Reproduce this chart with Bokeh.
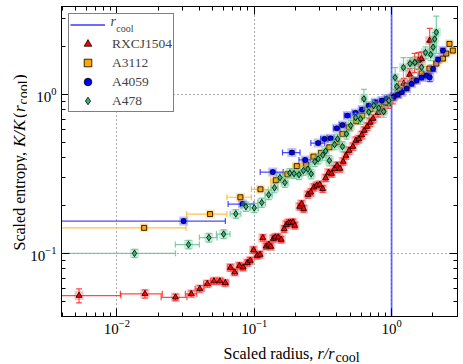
import math
from bokeh.plotting import figure
from bokeh.layouts import row, column
from bokeh.models import (Range1d, LogAxis, FixedTicker, Whisker, TeeHead,
                          ColumnDataSource, Legend, LegendItem, Label)
from bokeh.embed import file_html
from bokeh.resources import INLINE

FONT = "Liberation Serif"

# ---------------- data ----------------
r_cool = 1.0

red_x = [0.0053, 0.0160, 0.0267, 0.0348, 0.0401, 0.0456, 0.0509, 0.0562, 0.0616, 0.0671,
         0.0721, 0.0780, 0.0830, 0.0891, 0.0936, 0.0989, 0.1051, 0.1102, 0.1154, 0.1220,
         0.1277, 0.1320, 0.1377, 0.1423, 0.1496, 0.1572, 0.1651, 0.1717, 0.1780, 0.1840,
         0.1918, 0.1974, 0.2143, 0.2214, 0.2291, 0.2460, 0.2584, 0.2716, 0.2853, 0.2998,
         0.3151, 0.3312, 0.3481, 0.3657, 0.3843, 0.4008, 0.4210, 0.4443, 0.4654, 0.4909,
         0.5229, 0.5495, 0.5772, 0.6066, 0.6324, 0.6645, 0.6982, 0.7336, 0.797, 0.866,
         0.941, 1.022, 1.123, 1.226, 1.354, 1.471, 1.572, 1.652, 1.895]
red_y = [0.0544, 0.0558, 0.0531, 0.0558, 0.0600, 0.0645, 0.0671, 0.0671, 0.0654, 0.0816,
         0.0763, 0.0838, 0.0820, 0.0874, 0.0904, 0.1052, 0.0971, 0.0986, 0.1255, 0.1111,
         0.1139, 0.1107, 0.1242, 0.1267, 0.1267, 0.1225, 0.1429, 0.1521, 0.1560, 0.1560,
         0.1574, 0.1500, 0.1976, 0.2055, 0.1910, 0.2350, 0.2429, 0.2612, 0.2679, 0.2716,
         0.2553, 0.2985, 0.3231, 0.3186, 0.3410, 0.3576, 0.3425, 0.3791, 0.4134, 0.4445,
         0.4709, 0.5139, 0.5250, 0.5563, 0.5940, 0.6291, 0.6670, 0.7063, 0.770, 0.805,
         0.878, 0.944, 1.086, 1.173, 1.336, 1.596, 1.636, 1.677, 2.186]
red_xerr = [0.0054, 0.0054, 0.0057, 0.0033, 0.0030, 0.0028, 0.0028, 0.0028, 0.0028, 0.0030,
            0.0030, 0.0030, 0.0030, 0.0032, 0.0032, 0.0035, 0.0035, 0.0035, 0.0035, 0.0040,
            0.0040, 0.0040, 0.0040, 0.0045, 0.0045, 0.0045, 0.0050, 0.0050, 0.0050, 0.0050,
            0.0055, 0.0055, 0.0060, 0.0060, 0.0060, 0.0065, 0.0065, 0.0070, 0.0070, 0.0075,
            0.0075, 0.0080, 0.0080, 0.0085, 0.0085, 0.0090, 0.0090, 0.0095, 0.0100, 0.0100,
            0.0110, 0.0110, 0.0120, 0.0120, 0.0130, 0.0130, 0.0140, 0.0140, 0.0150, 0.0160,
            0.0170, 0.0180, 0.0200, 0.0220, 0.0240, 0.0260, 0.0280, 0.0300, 0.0340]
red_yerr = [0.0055, 0.0033, 0.0025, 0.0025, 0.0028, 0.0030, 0.0030, 0.0030, 0.0030, 0.0040,
            0.0035, 0.0040, 0.0038, 0.0040, 0.0042, 0.0050, 0.0045, 0.0045, 0.0060, 0.0050,
            0.0052, 0.0050, 0.0058, 0.0060, 0.0060, 0.0058, 0.0068, 0.0072, 0.0075, 0.0075,
            0.0075, 0.0070, 0.0095, 0.0100, 0.0090, 0.0115, 0.0120, 0.0130, 0.0130, 0.0135,
            0.0125, 0.0150, 0.0160, 0.0160, 0.0170, 0.0180, 0.0170, 0.0190, 0.0210, 0.0230,
            0.0250, 0.0270, 0.0280, 0.0300, 0.0330, 0.0350, 0.0380, 0.0420, 0.0480, 0.0520,
            0.0600, 0.0700, 0.1300, 0.0900, 0.1200, 0.2200, 0.2000, 0.1800, 0.4200]

orange_x = [0.01579, 0.04770, 0.07929, 0.1110, 0.1435, 0.1742, 0.2042, 0.2389, 0.2702, 0.3064,
            0.3522, 0.3974, 0.4388, 0.4904, 0.5535, 0.6113, 0.7015, 0.8063, 0.8994, 1.005,
            1.153, 1.289, 1.447, 1.652, 1.886, 2.118, 2.366, 2.500, 2.640, 2.793]
orange_y = [0.1451, 0.1772, 0.2260, 0.2537, 0.2891, 0.3152, 0.3550, 0.3628, 0.4074, 0.4297,
            0.4661, 0.5012, 0.5661, 0.6226, 0.6793, 0.7376, 0.8129, 0.8651, 0.8946, 0.9575,
            1.060, 1.139, 1.225, 1.356, 1.457, 1.567, 1.684, 1.811, 2.084, 1.891]
orange_xerr = [0.0161, 0.0155, 0.0160, 0.0156, 0.0120, 0.0120, 0.0130, 0.0130, 0.0140, 0.0140,
               0.0150, 0.0150, 0.0160, 0.0160, 0.0170, 0.0170, 0.0180, 0.0200, 0.0200, 0.0200,
               0.0220, 0.0250, 0.0280, 0.0300, 0.0350, 0.0400, 0.0450, 0.0500, 0.0550, 0.0600]
orange_yerr = [0.0045, 0.0050, 0.0060, 0.0065, 0.0075, 0.0080, 0.0090, 0.0090, 0.0100, 0.0110,
               0.0120, 0.0130, 0.0145, 0.0160, 0.0175, 0.0190, 0.0210, 0.0220, 0.0230, 0.0250,
               0.0280, 0.0300, 0.0320, 0.0350, 0.0380, 0.0410, 0.0450, 0.0500, 0.0600, 0.0550]

blue_x = [0.03063, 0.0820, 0.1365, 0.1880, 0.2350, 0.2920, 0.3242, 0.3598, 0.3994, 0.4388,
          0.4770, 0.5470, 0.6113, 0.6831, 0.7621, 0.8516, 0.9251, 1.039, 1.110, 1.186,
          1.289, 1.400, 1.520, 1.652, 1.795, 1.895, 2.005, 2.178, 2.366]
blue_y = [0.1601, 0.2048, 0.3255, 0.4316, 0.3883, 0.4954, 0.5264, 0.5310, 0.6138, 0.6430,
          0.7376, 0.7671, 0.8047, 0.8528, 0.8946, 0.9168, 0.9437, 0.9714, 1.000, 1.034,
          1.091, 1.168, 1.225, 1.279, 1.317, 1.285, 1.451, 1.660, 1.891]
blue_xerr = [0.0310, 0.0175, 0.0260, 0.0274, 0.0233, 0.0337, 0.0200, 0.0200, 0.0220, 0.0220,
             0.0240, 0.0250, 0.0260, 0.0280, 0.0300, 0.0320, 0.0340, 0.0360, 0.0380, 0.0400,
             0.0420, 0.0450, 0.0480, 0.0500, 0.0520, 0.0550, 0.0580, 0.0600, 0.0650]
blue_yerr = [0.0050, 0.0070, 0.0090, 0.0110, 0.0100, 0.0130, 0.0140, 0.0140, 0.0160, 0.0170,
             0.0190, 0.0200, 0.0210, 0.0220, 0.0240, 0.0250, 0.0260, 0.0280, 0.0300, 0.0310,
             0.0330, 0.0360, 0.0380, 0.0420, 0.0450, 0.0800, 0.0500, 0.0550, 0.0600]

green_x = [0.01343, 0.03323, 0.04675, 0.05984, 0.07337, 0.08701, 0.1000, 0.1134, 0.1274, 0.1404,
           0.1539, 0.1671, 0.1816, 0.1950, 0.2118, 0.2281, 0.2459, 0.2597, 0.2761, 0.2925,
           0.3151, 0.3313, 0.3522, 0.3845, 0.4043, 0.4388, 0.4690, 0.5036, 0.5471, 0.5942,
           0.6290, 0.6831, 0.7420, 0.8063, 0.8758, 0.9563, 1.061, 1.092, 1.220, 1.361,
           1.479, 1.652, 1.766, 1.927, 2.005, 2.060, 2.118]
green_y = [0.1003, 0.1139, 0.1260, 0.1326, 0.1777, 0.1975, 0.1938, 0.2093, 0.2343, 0.2593,
           0.3006, 0.2796, 0.3208, 0.3185, 0.3139, 0.3327, 0.3400, 0.3171, 0.3790, 0.3941,
           0.4164, 0.4412, 0.3845, 0.4847, 0.5264, 0.4709, 0.5661, 0.6383, 0.7166, 0.7033,
           0.9396, 0.7760, 0.8528, 0.8224, 0.7818, 0.9168, 1.279, 1.123, 1.478, 1.567,
           1.590, 1.485, 1.837, 1.785, 1.984, 2.234, 2.465]
green_xerr = [0.0133, 0.0066, 0.0069, 0.0068, 0.0066, 0.0068, 0.0070, 0.0072, 0.0075, 0.0078,
              0.0080, 0.0085, 0.0090, 0.0095, 0.0100, 0.0105, 0.0110, 0.0115, 0.0120, 0.0125,
              0.0130, 0.0135, 0.0140, 0.0150, 0.0160, 0.0170, 0.0180, 0.0190, 0.0200, 0.0210,
              0.0220, 0.0240, 0.0260, 0.0280, 0.0300, 0.0320, 0.0350, 0.0360, 0.0400, 0.0450,
              0.0480, 0.0520, 0.0560, 0.0600, 0.0620, 0.0640, 0.0660]
green_yerr = [0.0060, 0.0070, 0.0080, 0.0085, 0.0110, 0.0130, 0.0130, 0.0140, 0.0160, 0.0180,
              0.0200, 0.0190, 0.0220, 0.0220, 0.0220, 0.0230, 0.0240, 0.0220, 0.0270, 0.0280,
              0.0300, 0.0320, 0.0280, 0.0350, 0.0380, 0.0350, 0.0420, 0.0480, 0.0550, 0.0540,
              0.1400, 0.0600, 0.0700, 0.0650, 0.0620, 0.0750, 0.2000, 0.0900, 0.2300, 0.1400,
              0.1300, 0.1200, 0.1600, 0.1500, 0.1800, 0.2200, 0.6500]

series_names = ["RXCJ1504", "A3112", "A4059", "A478"]

# ---------------- main figure ----------------
X_START, X_END = 0.00395, 3.02
Y_START, Y_END = 0.0402, 3.58
LEFT_W = 27          # strip holding the y-axis title
MAIN_W, MAIN_H = 435, 338
BOTTOM_H = 25        # strip holding the x-axis title

p = figure(width=MAIN_W, height=MAIN_H, x_axis_type="log", y_axis_type="log",
           x_range=Range1d(X_START, X_END), y_range=Range1d(Y_START, Y_END),
           output_backend="svg", toolbar_location=None,
           min_border_left=29, min_border_right=5, min_border_top=6, min_border_bottom=22)
p.background_fill_color = "white"
p.border_fill_color = "white"
p.outline_line_color = "black"
p.outline_line_width = 1

x_major = [0.01, 0.1, 1.0]
x_minor = [m * 10.0 ** e for e in (-3, -2, -1, 0) for m in range(2, 10) if X_START < m * 10.0 ** e < X_END]
y_major = [0.1, 1.0]
y_minor = [m * 10.0 ** e for e in (-2, -1, 0) for m in range(2, 10) if Y_START < m * 10.0 ** e < Y_END]
xt = FixedTicker(ticks=x_major, minor_ticks=x_minor)
yt = FixedTicker(ticks=y_major, minor_ticks=y_minor)


def style_axis(ax, labels=True, standoff=4):
    ax.axis_line_color = "black"
    ax.major_tick_in = 8
    ax.major_tick_out = 0
    ax.minor_tick_in = 4
    ax.minor_tick_out = 0
    ax.major_tick_line_color = "black"
    ax.minor_tick_line_color = "black"
    if labels:
        ax.major_label_text_font = FONT
        ax.major_label_text_font_size = "15px"
        ax.major_label_text_color = "black"
        ax.major_label_standoff = standoff
    else:
        ax.major_label_text_font_size = "1px"
        ax.major_label_text_alpha = 0
        ax.major_label_standoff = 0


p.xaxis.ticker = xt
p.yaxis.ticker = yt
style_axis(p.xaxis[0], standoff=3)
style_axis(p.yaxis[0], standoff=5)
top = LogAxis(ticker=FixedTicker(ticks=x_major, minor_ticks=x_minor))
right = LogAxis(ticker=FixedTicker(ticks=y_major, minor_ticks=y_minor))
style_axis(top, labels=False)
style_axis(right, labels=False)
p.add_layout(top, "above")
p.add_layout(right, "right")

for g, t in ((p.xgrid[0], xt), (p.ygrid[0], yt)):
    g.ticker = t
    g.grid_line_color = "#444444"
    g.grid_line_dash = "1 3"
    g.grid_line_width = 1
    g.grid_line_alpha = 0.9

# r_cool line
rline = p.segment(x0=[r_cool], y0=[Y_START], x1=[r_cool], y1=[Y_END],
                  line_color="#3b3bff", line_alpha=0.75, line_width=1.8)


def draw(xs, ys, xerr, yerr, color, bar_color, halo_color, marker, msize):
    src = ColumnDataSource(dict(
        x=xs, y=ys,
        xl=[max(x - e, X_START * 0.5) for x, e in zip(xs, xerr)],
        xh=[x + e for x, e in zip(xs, xerr)],
        yl=[max(y - e, Y_START * 0.5) for y, e in zip(ys, yerr)],
        yh=[y + e for y, e in zip(ys, yerr)],
    ))
    p.scatter("x", "y", source=src, marker="square", size=9, fill_color=halo_color,
              fill_alpha=0.35, line_color=None)
    p.segment("xl", "y", "xh", "y", source=src, line_color=bar_color, line_width=1.2, line_alpha=0.85)
    p.segment("x", "yl", "x", "yh", source=src, line_color=bar_color, line_width=1.2, line_alpha=0.85)
    p.add_layout(Whisker(source=src, base="y", lower="xl", upper="xh", dimension="width",
                         line_alpha=0,
                         lower_head=TeeHead(size=6, line_color=bar_color, line_alpha=0.85, line_width=1.2),
                         upper_head=TeeHead(size=6, line_color=bar_color, line_alpha=0.85, line_width=1.2)))
    p.add_layout(Whisker(source=src, base="x", lower="yl", upper="yh", dimension="height",
                         line_alpha=0,
                         lower_head=TeeHead(size=6, line_color=bar_color, line_alpha=0.85, line_width=1.2),
                         upper_head=TeeHead(size=6, line_color=bar_color, line_alpha=0.85, line_width=1.2)))
    m = p.scatter("x", "y", source=src, marker=marker, size=msize, fill_color=color,
                  line_color="black", line_width=0.8)
    return m


m_red = draw(red_x, red_y, red_xerr, red_yerr, "#ff0000", "#ff2a2a", "#ff4d4d", "triangle", 6)
m_orange = draw(orange_x, orange_y, orange_xerr, orange_yerr, "#ffa500", "#ffb52e", "#ffb52e", "square", 5)
m_blue = draw(blue_x, blue_y, blue_xerr, blue_yerr, "#0000ff", "#2a2aff", "#4d4dff", "circle", 5)
m_green = draw(green_x, green_y, green_xerr, green_yerr, "#3cb371", "#66c795", "#66c795", "diamond", 6.5)

legend = Legend(items=[
    LegendItem(label=" ", renderers=[rline]),
    LegendItem(label=series_names[0], renderers=[m_red]),
    LegendItem(label=series_names[1], renderers=[m_orange]),
    LegendItem(label=series_names[2], renderers=[m_blue]),
    LegendItem(label=series_names[3], renderers=[m_green]),
], location="top_left", margin=7, padding=1, spacing=0, glyph_height=19, glyph_width=35,
    label_height=19, label_standoff=7, label_text_font=FONT, label_text_font_size="13.5px",
    border_line_color="black", border_line_width=1, background_fill_color="white",
    background_fill_alpha=1)
p.add_layout(legend)

# label "r_cool" of the first legend row: two borderless legends laid over the first row
# (location = bottom-left corner, in px from the frame's bottom-left)
leg_r = Legend(items=[LegendItem(label="r", renderers=[rline])], location=(49.5, 286),
               padding=0, margin=0, spacing=0, glyph_width=0, glyph_height=10, label_height=10,
               label_standoff=0, label_text_font=FONT, label_text_font_size="14px",
               label_text_font_style="italic", border_line_alpha=0, background_fill_alpha=0)
leg_cool = Legend(items=[LegendItem(label="cool", renderers=[rline])], location=(55.3, 282),
                  padding=0, margin=0, spacing=0, glyph_width=0, glyph_height=8, label_height=8,
                  label_standoff=0, label_text_font=FONT, label_text_font_size="10px",
                  border_line_alpha=0, background_fill_alpha=0)
p.add_layout(leg_r)
p.add_layout(leg_cool)


def strip(w, h):
    f = figure(width=w, height=h, x_range=Range1d(0, 1), y_range=Range1d(0, 1),
               output_backend="svg", toolbar_location=None, min_border=0,
               x_axis_location=None, y_axis_location=None)
    f.outline_line_color = None
    f.background_fill_color = "white"
    f.border_fill_color = "white"
    f.xgrid.visible = False
    f.ygrid.visible = False
    return f


def lab(f, text, x, y, size, style="normal", angle=0.0):
    # screen units: x from the frame's left edge, y upward from its bottom edge
    f.add_layout(Label(x=x, y=y, x_units="screen", y_units="screen", text=text,
                       text_font=FONT, text_font_size=size, text_font_style=style,
                       angle=angle, text_align="left", text_baseline="alphabetic",
                       text_color="black"))


# y-axis title: Scaled entropy, K/K(r_cool)
fl = strip(LEFT_W, MAIN_H + BOTTOM_H)
A = math.pi / 2
lab(fl, "Scaled entropy, ", 19, 113, "16px", angle=A)
lab(fl, "K/K", 19, 216.5, "17px", "italic", angle=A)
lab(fl, "(", 19, 245.5, "17px", angle=A)
lab(fl, "r", 19, 251.5, "17px", "italic", angle=A)
lab(fl, "cool", 23, 259, "14px", angle=A)
lab(fl, ")", 19, 283.5, "17px", angle=A)

# x-axis title: Scaled radius, r/r_cool
fb = strip(MAIN_W, BOTTOM_H)
lab(fb, "Scaled radius, ", 162, 10.5, "16px")
lab(fb, "r/r", 256, 10.5, "16px", "italic")
lab(fb, "cool", 274, 6.5, "14px")

layout = row(fl, column(p, fb, spacing=0), spacing=0)

open("out.html", "w").write(file_html(layout, INLINE))
